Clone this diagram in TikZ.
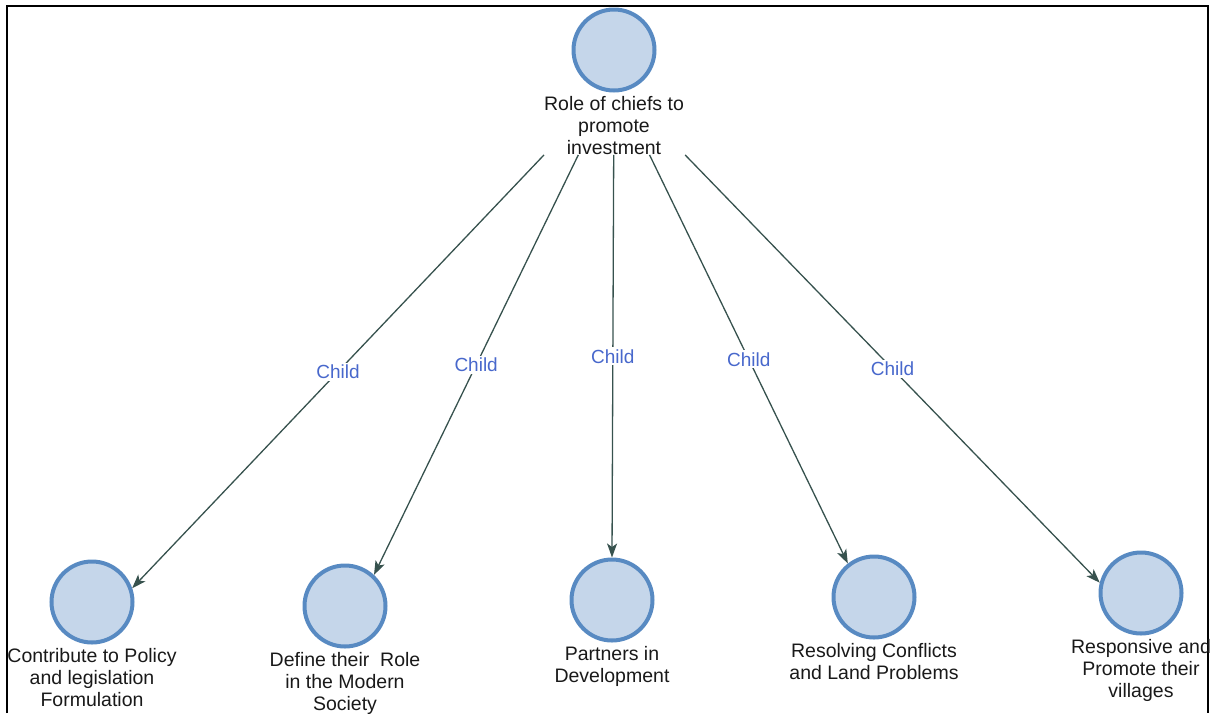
\documentclass[tikz,border=0pt]{standalone}
\usepackage{fontspec}
\setmainfont{Liberation Sans}
\usetikzlibrary{arrows.meta,fit}

\definecolor{ringblue}{RGB}{88,138,194}
\definecolor{fillblue}{RGB}{197,214,234}
\definecolor{edgegreen}{RGB}{55,82,78}
\definecolor{childblue}{RGB}{72,104,204}

\tikzset{
  topic/.style={circle, draw=ringblue, fill=fillblue, line width=4pt,
    minimum size=81pt, inner sep=0pt},
  caption/.style={anchor=north, yshift=-3.5pt, inner sep=0pt, align=center,
    text=black!90, font=\fontsize{19.5}{22}\selectfont},
  link/.style={draw=edgegreen, line width=1.3pt,
    -{Stealth[length=14pt,width=10pt,inset=3.5pt]}},
  rel/.style={midway, fill=white, inner sep=2pt, text=childblue,
    font=\fontsize{19}{22}\selectfont},
  frame/.style={draw=black, line width=2pt}
}

\begin{document}
\begin{tikzpicture}[x=1pt, y=-1pt]
  \useasboundingbox (0,0) rectangle (1213,713);

  % open frame: left, top and right sides
  \draw[frame] (6.5,713) -- (6.5,6) -- (1208,6) -- (1208,713);

  % root topic and its caption
  \node[topic] (rc) at (614,50) {};
  \node[caption] (rl) at (rc.south) {Role of chiefs to\\promote\\investment};
  \node[fit=(rc)(rl), inner sep=0pt, minimum width=150pt] (root) {};

  % child topics
  \node[topic] (c1) at (92,602) {};
  \node[caption] (l1) at (c1.south) {Contribute to Policy\\and legislation\\Formulation};

  \node[topic] (c2) at (345,606) {};
  \node[caption] (l2) at (c2.south) {Define their~ Role\\in the Modern\\Society};

  \node[topic] (c3) at (612,600) {};
  \node[caption] (l3) at (c3.south) {Partners in\\Development};

  \node[topic] (c4) at (874,597) {};
  \node[caption] (l4) at (c4.south) {Resolving Conflicts\\and Land Problems};

  \node[topic] (c5) at (1141,593) {};
  \node[caption] (l5) at (c5.south) {Responsive and\\Promote their\\villages};

  % child links
  \draw[link] (root) -- (c1.19)  node[rel] {Child};
  \draw[link] (root) -- (c2.47)  node[rel] {Child};
  \draw[link] (root) -- (c3.90)  node[rel] {Child};
  \draw[link] (root) -- (c4.128) node[rel] {Child};
  \draw[link] (root) -- (c5.166) node[rel] {Child};
\end{tikzpicture}
\end{document}
